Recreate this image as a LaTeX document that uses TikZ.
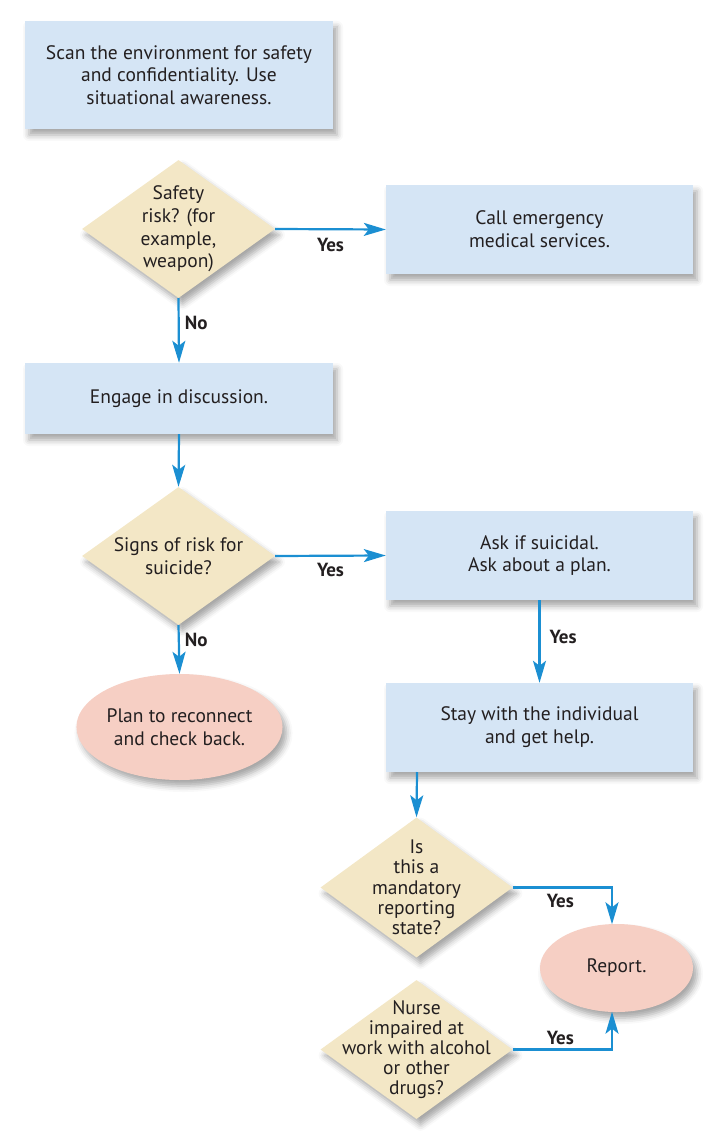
\documentclass[tikz,border=0pt]{standalone}
\usepackage{fontspec}
\setmainfont{PT Sans}
\usetikzlibrary{shapes.geometric,arrows.meta,shadows.blur}
\definecolor{boxblue}{HTML}{D5E5F5}
\definecolor{dbeige}{HTML}{F3E7C6}
\definecolor{epink}{HTML}{F6CFC4}
\definecolor{arrblue}{HTML}{1B8FD2}
\definecolor{txt}{HTML}{231F20}
\tikzset{
  shd/.style={blur shadow={shadow xshift=4pt,shadow yshift=-6pt,shadow blur radius=6pt,shadow opacity=35}},
  procbox/.style={rectangle,fill=boxblue,draw=none,shd,text=txt,align=center,inner sep=0pt,
    font=\fontsize{19.5}{22.8}\selectfont},
  decis/.style={diamond,fill=dbeige,draw=none,shd,minimum width=193pt,minimum height=138pt,inner sep=0pt},
  dtext/.style={align=center,text=txt,inner sep=0pt},
  term/.style={ellipse,fill=epink,draw=none,shd,text=txt,align=center,inner sep=0pt,
    font=\fontsize{19.5}{22.5}\selectfont},
  conn/.style={draw=arrblue,line width=2.2pt,-{Stealth[length=22pt,width=13pt,inset=5pt]}},
  lbl/.style={font=\bfseries\fontsize{19}{21}\selectfont,text=txt,inner sep=0pt}
}
\begin{document}
\begin{tikzpicture}[x=1pt,y=-1pt]
\useasboundingbox (0,0) rectangle (720,1139);
% boxes
\node[procbox,minimum width=308pt,minimum height=108pt] (scan) at (179,75)
  {Scan the environment for safety\\and confidentiality. Use\\situational awareness.};
\node[decis] (safe) at (178.5,229) {};
\node[dtext,font=\fontsize{19.5}{22.7}\selectfont] at (safe) {Safety\\risk? (for\\example,\\weapon)};
\node[procbox,minimum width=307pt,minimum height=89pt] (ems) at (539.5,229.5)
  {Call emergency\\medical services.};
\node[procbox,minimum width=308pt,minimum height=71pt] (eng) at (179,398.5)
  {Engage in discussion.};
\node[decis] (signs) at (178.5,556) {};
\node[dtext,font=\fontsize{19.5}{22.5}\selectfont] at (signs) {Signs of risk for\\suicide?};
\node[procbox,minimum width=307pt,minimum height=89pt] (ask) at (539.5,555.5)
  {Ask if suicidal.\\Ask about a plan.};
\node[procbox,minimum width=307pt,minimum height=89pt] (stay) at (539.5,727.5)
  {Stay with the individual\\and get help.};
\node[term,minimum width=205pt,minimum height=106pt] (plan) at (179.5,727)
  {Plan to reconnect\\and check back.};
\node[decis,minimum width=192pt,minimum height=140pt] (mand) at (416.5,887.5) {};
\node[dtext,font=\fontsize{19.5}{20.3}\selectfont] at (mand) {Is\\this a\\mandatory\\reporting\\state?};
\node[term,minimum width=153pt,minimum height=88pt] (rep) at (616.5,968)
  {Report.};
\node[decis,minimum width=192pt,minimum height=139pt] (nurse) at (416.5,1049.5) {};
\node[dtext,font=\fontsize{19.5}{20}\selectfont] at (nurse) {Nurse\\impaired at\\work with alcohol\\or other\\drugs?};
% connectors
\draw[conn] (safe.east) -- node[lbl,pos=0.5,below=8pt] {Yes} (ems.west);
\draw[conn] (safe.south) -- node[lbl,pos=0.38,right=5pt] {No} (eng.north);
\draw[conn] (eng.south) -- (signs.north);
\draw[conn] (signs.east) -- node[lbl,pos=0.5,below=6pt] {Yes} (ask.west);
\draw[conn] (signs.south) -- node[lbl,pos=0.3,right=5pt] {No} (plan.north);
\draw[conn] (ask.south) -- node[lbl,pos=0.45,right=9pt] {Yes} (stay.north);
\coordinate (stayout) at (417,772);
\draw[conn] (stayout) -- (mand.north);
\coordinate (reptop) at (612,924.3);
\coordinate (repbot) at (612,1011.7);
\draw[conn] (mand.east) -| node[lbl,pos=0.24,below=6pt] {Yes} (reptop);
\draw[conn] (nurse.east) -| node[lbl,pos=0.24,above=4pt] {Yes} (repbot);
\end{tikzpicture}
\end{document}
